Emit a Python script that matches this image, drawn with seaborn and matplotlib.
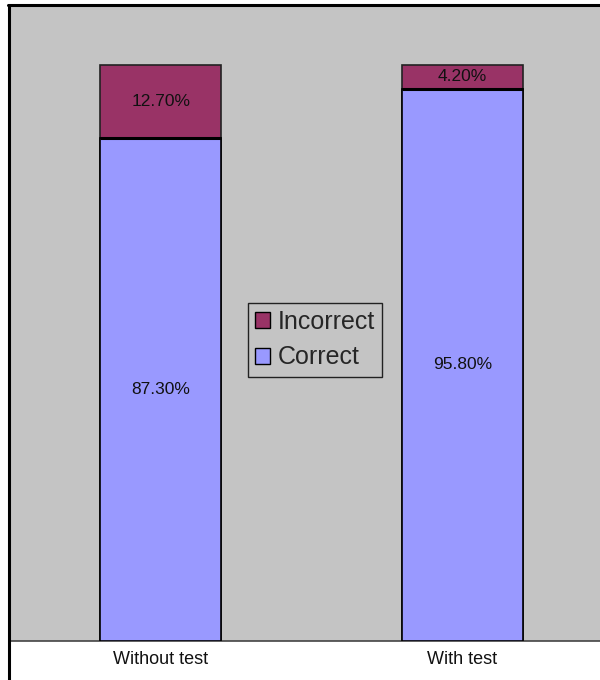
import matplotlib
matplotlib.use("Agg")
import matplotlib.pyplot as plt
import matplotlib.patches as mpatches
import seaborn as sns
import pandas as pd

groups = ["Without test", "With test"]
correct = [87.30, 95.80]
incorrect = [12.70, 4.20]

df = pd.DataFrame({"group": groups, "correct": correct, "incorrect": incorrect})
df["total"] = df["correct"] + df["incorrect"]

sns.set_style("white")
plt.rcParams["font.family"] = ["Liberation Sans", "DejaVu Sans"]

c_correct = "#9999FF"
c_incorrect = "#993366"
bg = "#C4C4C4"

fig = plt.figure(figsize=(6.0, 6.8), dpi=100)
ax = fig.add_axes([10 / 600, 39 / 680, 590 / 600, 634 / 680])
ax.set_facecolor(bg)

# stacked bars: full height in the "Incorrect" colour, "Correct" drawn over it
sns.barplot(data=df, x="group", y="total", color=c_incorrect, saturation=1,
            width=0.4, edgecolor="#222222", linewidth=1.2, ax=ax, zorder=2)
sns.barplot(data=df, x="group", y="correct", color=c_correct, saturation=1,
            width=0.4, edgecolor="#000000", linewidth=1.2, ax=ax, zorder=3)

# thicker dividing line between the two segments
for i, c in enumerate(df["correct"]):
    ax.plot([i - 0.2, i + 0.2], [c, c], color="black", lw=2.2, zorder=4,
            solid_capstyle="butt")

for i, row in df.iterrows():
    ax.text(i, row["correct"] / 2, f"{row['correct']:.2f}%", ha="center",
            va="center", fontsize=12.5, color="#111111", zorder=5)
    ax.text(i, row["correct"] + row["incorrect"] / 2, f"{row['incorrect']:.2f}%",
            ha="center", va="center", fontsize=12.5, color="#111111", zorder=5)

ax.set_xlim(-0.5, 1.457)
ax.set_ylim(0, 110)
ax.set_xlabel("")
ax.set_ylabel("")
ax.set_yticks([])
ax.tick_params(axis="x", length=0, pad=7, labelsize=13, colors="#111111")
for side in ["top", "right", "left"]:
    ax.spines[side].set_visible(False)
ax.spines["bottom"].set_color("#444444")
ax.spines["bottom"].set_linewidth(1.2)

handles = [mpatches.Patch(facecolor=c_incorrect, edgecolor="black", label="Incorrect"),
           mpatches.Patch(facecolor=c_correct, edgecolor="black", label="Correct")]
leg = ax.legend(handles=handles, loc="center", bbox_to_anchor=(0.517, 0.475),
                frameon=True, fancybox=False, fontsize=18, handlelength=0.6,
                handleheight=0.6, handletextpad=0.3, borderpad=0.3,
                borderaxespad=0, labelspacing=0.45, facecolor=bg, framealpha=1)
leg.get_frame().set_edgecolor("#222222")
leg.get_frame().set_linewidth(1.0)

# outer chart border (left and top edges)
fig.add_artist(plt.Line2D([9 / 600, 9 / 600], [0, 675 / 680], color="black",
                          lw=2.2, transform=fig.transFigure))
fig.add_artist(plt.Line2D([8 / 600, 1.0], [675 / 680, 675 / 680], color="black",
                          lw=2.2, transform=fig.transFigure))

fig.savefig("out.png", dpi=100, facecolor="white")
